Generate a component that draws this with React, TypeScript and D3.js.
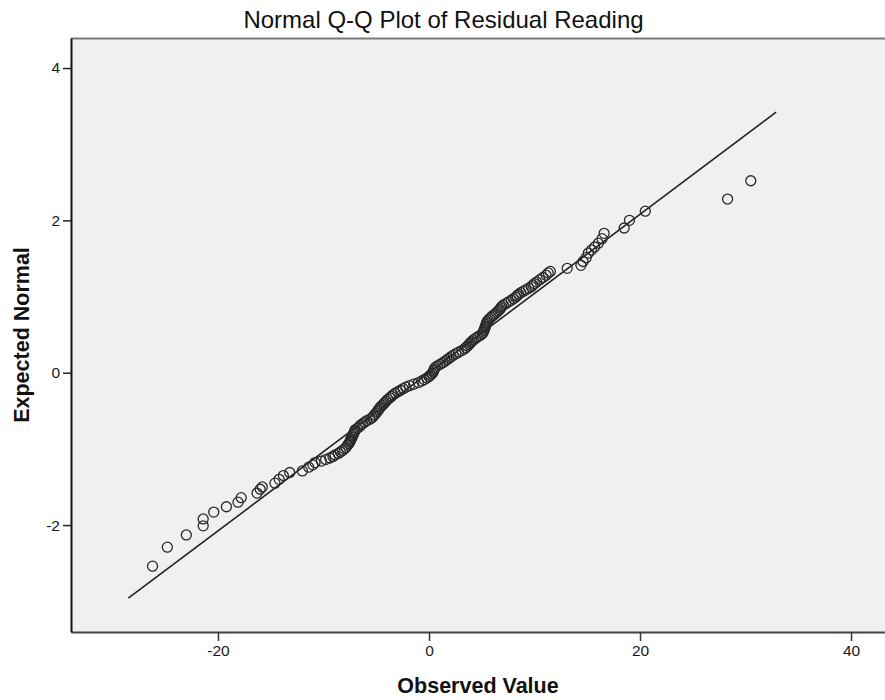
import { useEffect, useRef } from 'react'
import * as d3 from 'd3'

// observed residuals (x) and their expected normal scores (y)
const observed = [
  -26.2, -24.8, -23.0, -21.4, -21.4, -20.4, -19.2, -18.1, -17.8, -16.3,
  -16.0, -15.8, -14.6, -14.2, -13.8, -13.2, -12.0, -11.4, -11.0,
  -10.8, -10.2, -9.8, -9.4, -9.1, -8.9, -8.6, -8.4, -8.2, -8.0,
  -7.85, -7.7, -7.6, -7.5, -7.45, -7.4, -7.3, -7.25, -7.2, -7.1,
  -7.05, -7.0, -6.8, -6.6, -6.5, -6.3, -6.1, -5.9, -5.6, -5.4,
  -5.25, -5.15, -5.0, -4.9, -4.8, -4.7, -4.6, -4.45, -4.3, -4.2,
  -4.05, -3.9, -3.7, -3.55, -3.4, -3.2, -2.95, -2.7, -2.45, -2.2,
  -1.85, -1.45, -1.0, -0.7, -0.45, -0.2, 0.0, 0.15, 0.3, 0.4,
  0.45, 0.5, 0.6, 0.8, 1.05, 1.3, 1.5, 1.7, 1.9, 2.1,
  2.3, 2.55, 2.8, 3.1, 3.35, 3.5, 3.65, 3.8, 3.9, 4.05,
  4.2, 4.4, 4.6, 4.85, 5.05, 5.15, 5.2, 5.25, 5.3, 5.35,
  5.4, 5.45, 5.5, 5.6, 5.75, 5.9, 6.05, 6.25, 6.4, 6.55,
  6.7, 6.8, 6.9, 7.05, 7.3, 7.55, 7.8, 8.0, 8.2, 8.35,
  8.5, 8.7, 8.95, 9.2, 9.45, 9.7, 9.85, 10.0, 10.2, 10.5,
  10.8, 11.1, 11.3, 11.5,
  13.1, 14.4, 14.6, 14.9, 15.1, 15.4, 15.7, 16.05, 16.4, 16.6,
  18.5, 19.0, 20.5, 28.3, 30.5,
]

const expectedNormal = [
  -2.54, -2.29, -2.13, -2.01, -1.92, -1.83, -1.76, -1.70, -1.64, -1.58,
  -1.53, -1.50, -1.45, -1.40, -1.35, -1.31, -1.29, -1.24, -1.21,
  -1.18, -1.16, -1.14, -1.12, -1.10, -1.08, -1.06, -1.04, -1.02, -1.00,
  -0.98, -0.95, -0.93, -0.91, -0.89, -0.87, -0.85, -0.83, -0.81, -0.79,
  -0.77, -0.75, -0.73, -0.71, -0.69, -0.67, -0.65, -0.63, -0.61, -0.59,
  -0.57, -0.55, -0.53, -0.51, -0.49, -0.47, -0.45, -0.43, -0.41, -0.39,
  -0.37, -0.35, -0.33, -0.31, -0.29, -0.27, -0.25, -0.23, -0.21, -0.19,
  -0.17, -0.15, -0.13, -0.11, -0.09, -0.07, -0.05, -0.03, -0.01, 0.01,
  0.03, 0.05, 0.07, 0.09, 0.11, 0.13, 0.15, 0.17, 0.19, 0.21,
  0.23, 0.25, 0.27, 0.29, 0.31, 0.33, 0.35, 0.37, 0.39, 0.41,
  0.43, 0.45, 0.47, 0.49, 0.51, 0.53, 0.55, 0.57, 0.59, 0.61,
  0.63, 0.65, 0.67, 0.69, 0.71, 0.73, 0.75, 0.77, 0.79, 0.81,
  0.83, 0.85, 0.87, 0.89, 0.91, 0.93, 0.95, 0.97, 0.99, 1.01,
  1.03, 1.05, 1.07, 1.09, 1.11, 1.13, 1.15, 1.17, 1.19, 1.22,
  1.25, 1.28, 1.31, 1.33,
  1.37, 1.41, 1.46, 1.51, 1.57, 1.61, 1.65, 1.70, 1.76, 1.83,
  1.90, 2.00, 2.12, 2.28, 2.52,
]

// reference line endpoints
const refLineX = [-28.5, 32.9]
const refLineY = [-2.96, 3.42]

const xTicks = [-20, 0, 20, 40]
const yTicks = [-2, 0, 2, 4]

const W = 885
const H = 700
const PLOT = { left: 71, right: 885, top: 38, bottom: 632 }
const FONT = '"Liberation Sans", Arial, sans-serif'

export default function App() {
  const svgRef = useRef<SVGSVGElement>(null)

  useEffect(() => {
    if (!svgRef.current) return
    const svg = d3.select(svgRef.current)
    svg.selectAll('*').remove()

    const x = d3.scaleLinear().domain([-33.93, 43.22]).range([PLOT.left, PLOT.right])
    const y = d3.scaleLinear().domain([-3.404, 4.394]).range([PLOT.bottom, PLOT.top])

    svg.append('rect')
      .attr('x', PLOT.left).attr('y', PLOT.top)
      .attr('width', PLOT.right - PLOT.left).attr('height', PLOT.bottom - PLOT.top)
      .attr('fill', '#f0f0f0')

    // frame: grey top, dark bottom, black left
    svg.append('line')
      .attr('x1', PLOT.left).attr('x2', PLOT.right)
      .attr('y1', PLOT.top + 0.5).attr('y2', PLOT.top + 0.5)
      .attr('stroke', '#7a7a7a').attr('stroke-width', 2)

    const plain = (d: d3.NumberValue) => String(d)

    const xAxis = svg.append('g')
      .attr('transform', `translate(0,${PLOT.bottom})`)
      .call(d3.axisBottom(x).tickValues(xTicks).tickFormat(plain).tickSize(9).tickSizeOuter(0).tickPadding(4))
    xAxis.select('.domain').attr('stroke', '#444').attr('stroke-width', 2)
    xAxis.selectAll('.tick line').attr('stroke', '#333').attr('stroke-width', 1.5)
    xAxis.selectAll('text')
      .style('font-family', FONT).style('font-size', '15.5px').attr('fill', '#1a1a1a')

    const yAxis = svg.append('g')
      .attr('transform', `translate(${PLOT.left},0)`)
      .call(d3.axisLeft(y).tickValues(yTicks).tickFormat(plain).tickSize(8).tickSizeOuter(0).tickPadding(3))
    yAxis.select('.domain').attr('stroke', '#111').attr('stroke-width', 2)
    yAxis.selectAll('.tick line').attr('stroke', '#222').attr('stroke-width', 1.5)
    yAxis.selectAll('text')
      .style('font-family', FONT).style('font-size', '15.5px').attr('fill', '#1a1a1a')

    // expected normal reference line
    svg.append('line')
      .attr('x1', x(refLineX[0])).attr('y1', y(refLineY[0]))
      .attr('x2', x(refLineX[1])).attr('y2', y(refLineY[1]))
      .attr('stroke', '#222').attr('stroke-width', 1.6)

    svg.append('g')
      .selectAll('circle')
      .data(observed)
      .join('circle')
      .attr('cx', d => x(d))
      .attr('cy', (_, i) => y(expectedNormal[i]))
      .attr('r', 5)
      .attr('fill', 'none')
      .attr('stroke', '#2a2a2a')
      .attr('stroke-width', 1.3)

    svg.append('text')
      .attr('x', W / 2 + 1).attr('y', 28)
      .attr('text-anchor', 'middle')
      .style('font-family', FONT).style('font-size', '24px')
      .attr('fill', '#111')
      .text('Normal Q-Q Plot of Residual Reading')

    svg.append('text')
      .attr('x', (PLOT.left + PLOT.right) / 2).attr('y', 693)
      .attr('text-anchor', 'middle')
      .style('font-family', FONT).style('font-size', '21.5px').style('font-weight', 'bold')
      .attr('fill', '#111')
      .text('Observed Value')

    svg.append('text')
      .attr('transform', `translate(29,${(PLOT.top + PLOT.bottom) / 2}) rotate(-90)`)
      .attr('text-anchor', 'middle')
      .style('font-family', FONT).style('font-size', '21.5px').style('font-weight', 'bold')
      .attr('fill', '#111')
      .text('Expected Normal')
  }, [])

  return (
    <svg
      ref={svgRef}
      width={W}
      height={H}
      style={{ display: 'block', position: 'absolute', left: 0, top: 0, background: '#fff' }}
    />
  )
}
